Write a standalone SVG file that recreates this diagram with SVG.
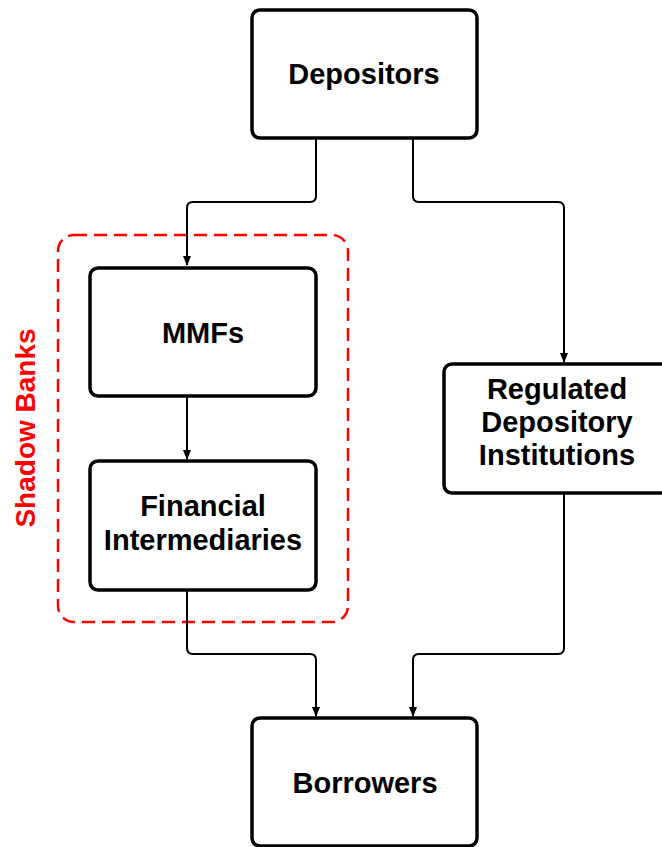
<svg xmlns="http://www.w3.org/2000/svg" width="662" height="847" viewBox="0 0 662 847">
<style>
.box{fill:#fff;stroke:#000;stroke-width:3.5}
.lbl{font-family:"Liberation Sans",Arial,sans-serif;font-weight:bold;font-size:29px;fill:#000;text-anchor:middle}
.con{fill:none;stroke:#000;stroke-width:2}
</style>
<defs>
<marker id="arr" markerWidth="10" markerHeight="8" refX="9" refY="4" orient="auto" markerUnits="userSpaceOnUse">
<path d="M0,0 L10,4 L0,8 Z" fill="#000"/>
</marker>
</defs>
<rect width="662" height="847" fill="#fff"/>
<g id="shadow-banks">
<rect x="58" y="235" width="290" height="387" rx="16" fill="none" stroke="#ff0000" stroke-width="2.5" stroke-dasharray="13,7"/>
<text transform="translate(35,428) rotate(-90)" text-anchor="middle" font-family="'Liberation Sans',Arial,sans-serif" font-weight="bold" font-size="28" fill="#ff0000">Shadow Banks</text>
</g>
<g id="connectors">
<path class="con" d="M316,138 V196 Q316,202 310,202 H193 Q187,202 187,208 V265" marker-end="url(#arr)"/>
<path class="con" d="M413,138 V196 Q413,202 419,202 H558 Q564,202 564,208 V362" marker-end="url(#arr)"/>
<path class="con" d="M187,396 V459" marker-end="url(#arr)"/>
<path class="con" d="M187,590 V648 Q187,654 193,654 H310 Q316,654 316,660 V716" marker-end="url(#arr)"/>
<path class="con" d="M564,493 V648 Q564,654 558,654 H419 Q413,654 413,660 V716" marker-end="url(#arr)"/>
</g>
<g id="depositors">
<rect class="box" x="252" y="10" width="225" height="128" rx="8"/>
<text class="lbl" x="364" y="84">Depositors</text>
</g>
<g id="mmfs">
<rect class="box" x="90" y="268" width="226" height="128" rx="8"/>
<text class="lbl" x="203" y="343">MMFs</text>
</g>
<g id="financial-intermediaries">
<rect class="box" x="90" y="461" width="226" height="129" rx="8"/>
<text class="lbl" x="203" y="516">Financial</text>
<text class="lbl" x="203" y="550">Intermediaries</text>
</g>
<g id="regulated-depository-institutions">
<rect class="box" x="444" y="364" width="226" height="129" rx="8"/>
<text class="lbl" x="557" y="399">Regulated</text>
<text class="lbl" x="557" y="432">Depository</text>
<text class="lbl" x="557" y="465">Institutions</text>
</g>
<g id="borrowers">
<rect class="box" x="252" y="718" width="225" height="128" rx="8"/>
<text class="lbl" x="365" y="793">Borrowers</text>
</g>
</svg>
